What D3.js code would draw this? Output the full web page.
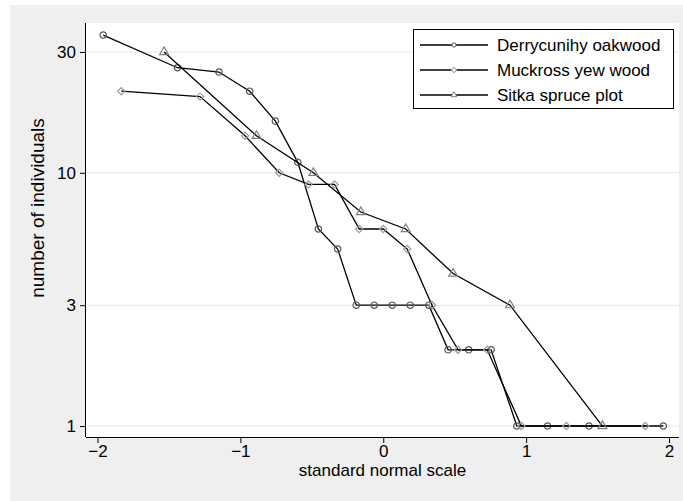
<!DOCTYPE html>
<html>
<head>
<meta charset="utf-8">
<script src="https://cdn.jsdelivr.net/npm/d3@7"></script>
<style>
  body { margin: 0; background: #ffffff; }
  text { font-family: "Liberation Sans", Arial, Helvetica, sans-serif; fill: #000; }
</style>
</head>
<body>
<div id="chart"></div>
<script>
// standard normal scores (x) and counts (y) per site
var derryX = [-1.96, -1.44, -1.15, -0.935, -0.755, -0.598, -0.454, -0.319, -0.189, -0.063,
              0.063, 0.189, 0.319, 0.454, 0.598, 0.755, 0.935, 1.15, 1.44, 1.96];
var derryY = [35, 26, 25, 21, 16, 11, 6, 5, 3, 3, 3, 3, 3, 2, 2, 2, 1, 1, 1, 1];

var muckX = [-1.834, -1.282, -0.967, -0.728, -0.524, -0.341, -0.168, 0, 0.168, 0.341,
             0.524, 0.728, 0.967, 1.282, 1.834];
var muckY = [21, 20, 14, 10, 9, 9, 6, 6, 5, 3, 2, 2, 1, 1, 1];

var sitkaX = [-1.534, -0.887, -0.489, -0.157, 0.157, 0.489, 0.887, 1.534];
var sitkaY = [30, 14, 10, 7, 6, 4, 3, 1];

var seriesNames = ["Derrycunihy oakwood", "Muckross yew wood", "Sitka spruce plot"];
var xTicks = [-2, -1, 0, 1, 2];
var yTicks = [1, 3, 10, 30];

var W = 683, H = 501;
var plot = {left: 86, right: 679, top: 23, bottom: 437};

var svg = d3.select("#chart").append("svg")
    .attr("width", W)
    .attr("height", H);

// outer grey figure area
svg.append("rect")
    .attr("x", 10).attr("y", 5)
    .attr("width", W - 10).attr("height", H - 5)
    .attr("fill", "#efefef");

// white plot region
svg.append("rect")
    .attr("x", plot.left).attr("y", plot.top)
    .attr("width", plot.right - plot.left).attr("height", plot.bottom - plot.top)
    .attr("fill", "#ffffff");

var x = d3.scaleLinear()
    .domain([-2.0805, 2.07])
    .range([plot.left, plot.right]);

var y = d3.scaleLog()
    .domain([0.905, 39.05])
    .range([plot.bottom, plot.top]);

// horizontal grid lines
svg.append("g")
  .selectAll("line")
  .data(yTicks)
  .enter().append("line")
    .attr("x1", plot.left).attr("x2", plot.right)
    .attr("y1", function(d) { return y(d); })
    .attr("y2", function(d) { return y(d); })
    .attr("stroke", "#e6e6e6")
    .attr("stroke-width", 1);

// axes
var xAxis = svg.append("g")
    .attr("transform", "translate(0," + plot.bottom + ")")
    .call(d3.axisBottom(x).tickValues(xTicks).tickSize(6).tickPadding(2)
      .tickFormat(function(d) { return d < 0 ? "\u2212" + Math.abs(d) : d; }));
xAxis.select(".domain").attr("d", "M" + plot.left + ",0.5H" + plot.right);

var yAxis = svg.append("g")
    .attr("transform", "translate(" + plot.left + ",0)")
    .call(d3.axisLeft(y).tickValues(yTicks).tickSize(6).tickPadding(4)
      .tickFormat(d3.format("d")));
yAxis.select(".domain").attr("d", "M-0.5," + plot.top + "V" + plot.bottom);

svg.selectAll(".tick text")
    .attr("font-size", "17px")
    .attr("font-family", "'Liberation Sans', Arial, Helvetica, sans-serif")
    .attr("fill", "#000");
svg.selectAll(".domain, .tick line").attr("stroke", "#000");

// axis titles
svg.append("text")
    .attr("x", (plot.left + plot.right) / 2)
    .attr("y", 476)
    .attr("text-anchor", "middle")
    .attr("font-size", "17px")
    .text("standard normal scale");

svg.append("text")
    .attr("transform", "translate(44,208) rotate(-90)")
    .attr("text-anchor", "middle")
    .attr("font-size", "19px")
    .text("number of individuals");

// marker shapes: diamond is a square turned 45 degrees
var markers = [
  {type: d3.symbolCircle, size: 32, rot: 0, color: "#555555"},
  {type: d3.symbolSquare, size: 26, rot: 45, color: "#9a9a9a"},
  {type: d3.symbolTriangle, size: 34, rot: 0, color: "#808080"}
];

var series = [
  {name: seriesNames[0], xs: derryX, ys: derryY},
  {name: seriesNames[1], xs: muckX, ys: muckY},
  {name: seriesNames[2], xs: sitkaX, ys: sitkaY}
];

var line = d3.line()
    .x(function(d) { return x(d[0]); })
    .y(function(d) { return y(d[1]); });

series.forEach(function(s, i) {
  var pts = s.xs.map(function(v, j) { return [v, s.ys[j]]; });
  var g = svg.append("g");
  g.append("path")
    .datum(pts)
    .attr("d", line)
    .attr("fill", "none")
    .attr("stroke", "#000")
    .attr("stroke-width", 1.3);
  g.selectAll("path.mk")
    .data(pts)
    .enter().append("path")
      .attr("class", "mk")
      .attr("transform", function(d) {
        return "translate(" + x(d[0]) + "," + y(d[1]) + ") rotate(" + markers[i].rot + ")";
      })
      .attr("d", d3.symbol().type(markers[i].type).size(markers[i].size))
      .attr("fill", "none")
      .attr("stroke", markers[i].color)
      .attr("stroke-width", 1.2);
});

// legend
var legend = svg.append("g");
legend.append("rect")
    .attr("x", 413.5).attr("y", 29.5)
    .attr("width", 260).attr("height", 79)
    .attr("fill", "#fff")
    .attr("stroke", "#000")
    .attr("stroke-width", 1);

series.forEach(function(s, i) {
  var ly = 45 + i * 25;
  legend.append("line")
    .attr("x1", 420).attr("x2", 488)
    .attr("y1", ly).attr("y2", ly)
    .attr("stroke", "#000")
    .attr("stroke-width", 1.3);
  legend.append("path")
    .attr("transform", "translate(454," + ly + ") rotate(" + markers[i].rot + ")")
    .attr("d", d3.symbol().type(markers[i].type).size(14))
    .attr("fill", "#fff")
    .attr("stroke", markers[i].color)
    .attr("stroke-width", 1);
  legend.append("text")
    .attr("x", 497)
    .attr("y", ly + 6)
    .attr("font-size", "17px")
    .text(s.name);
});
</script>
</body>
</html>
